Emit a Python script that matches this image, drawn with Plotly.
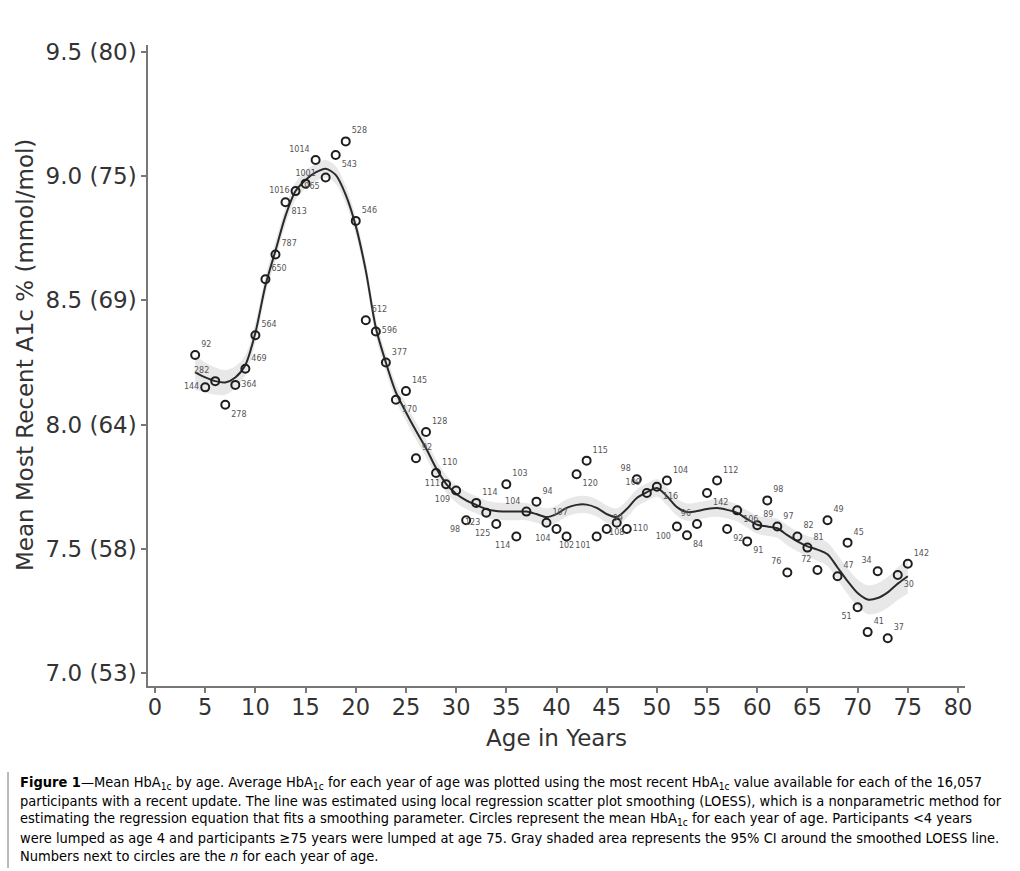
import plotly.graph_objects as go

# ---------------- data ----------------
ages = list(range(4, 76))

mean_a1c = [8.28, 8.15, 8.175, 8.08, 8.16, 8.225, 8.36, 8.585, 8.685, 8.895,
            8.94, 8.97, 9.065, 8.995, 9.085, 9.14, 8.82, 8.42, 8.375, 8.25,
            8.10, 8.135, 7.865, 7.97, 7.805, 7.76, 7.735, 7.615, 7.685, 7.645,
            7.60, 7.76, 7.55, 7.65, 7.69, 7.605, 7.58, 7.55, 7.80, 7.855,
            7.55, 7.58, 7.605, 7.58, 7.78, 7.725, 7.75, 7.775, 7.59, 7.555,
            7.60, 7.725, 7.775, 7.58, 7.655, 7.53, 7.595, 7.695, 7.59, 7.405,
            7.55, 7.505, 7.415, 7.615, 7.39, 7.525, 7.265, 7.165, 7.41, 7.14,
            7.395, 7.44]

n_per_age = ["92", "144", "282", "278", "364", "469", "564", "650", "787", "813",
             "1016", "1001", "1014", "965", "543", "528", "546", "612", "596", "377",
             "170", "145", "92", "128", "110", "111", "109", "98", "114", "123",
             "125", "103", "114", "104", "94", "107", "104", "102", "120", "115",
             "101", "99", "108", "110", "98", "109", "116", "104", "100", "84",
             "96", "142", "112", "92", "106", "91", "89", "98", "97", "76",
             "82", "81", "72", "49", "47", "45", "51", "41", "34", "37",
             "30", "142"]

loess_fit = [8.21, 8.19, 8.175, 8.17, 8.19, 8.24, 8.37, 8.56, 8.70, 8.84,
             8.94, 8.985, 9.015, 9.03, 9.005, 8.925, 8.80, 8.62, 8.39, 8.25,
             8.13, 8.05, 7.975, 7.905, 7.825, 7.762, 7.722, 7.695, 7.677, 7.66,
             7.652, 7.65, 7.65, 7.65, 7.64, 7.628, 7.64, 7.665, 7.677, 7.678,
             7.665, 7.64, 7.628, 7.66, 7.705, 7.728, 7.745, 7.712, 7.668, 7.648,
             7.652, 7.66, 7.664, 7.657, 7.645, 7.62, 7.597, 7.59, 7.583, 7.555,
             7.53, 7.51, 7.497, 7.478, 7.425, 7.37, 7.322, 7.296, 7.302, 7.325,
             7.36, 7.39]

ci_half = [0.07, 0.06, 0.055, 0.05, 0.045, 0.04, 0.04, 0.038, 0.036, 0.035,
           0.035, 0.035, 0.035, 0.035, 0.035, 0.035, 0.035, 0.035, 0.035, 0.035,
           0.035, 0.035, 0.035, 0.035, 0.035, 0.035, 0.035, 0.035, 0.035, 0.035,
           0.035, 0.035, 0.035, 0.035, 0.035, 0.035, 0.035, 0.035, 0.035, 0.035,
           0.035, 0.035, 0.035, 0.035, 0.035, 0.035, 0.035, 0.035, 0.035, 0.035,
           0.035, 0.035, 0.035, 0.035, 0.035, 0.035, 0.036, 0.037, 0.038, 0.04,
           0.04, 0.042, 0.045, 0.048, 0.05, 0.052, 0.055, 0.058, 0.06, 0.062,
           0.066, 0.07]

y_tickvals = [7.0, 7.5, 8.0, 8.5, 9.0, 9.5]
y_ticktext = ["7.0 (53)", "7.5 (58)", "8.0 (64)", "8.5 (69)", "9.0 (75)", "9.5 (80)"]
x_tickvals = list(range(0, 81, 5))

# label placement (style only)
label_pos = ["top right", "middle left", "top left", "bottom right", "middle right",
             "top right", "top right", "top right", "top right", "bottom right",
             "middle left", "top center", "top left", "bottom left", "bottom right",
             "top right", "top right", "top right", "middle right", "top right",
             "bottom right", "top right", "top right", "top right", "top right",
             "middle left", "bottom left", "bottom left", "top right", "bottom left",
             "bottom left", "top right", "bottom left", "top left", "top right",
             "top right", "bottom left", "bottom center", "bottom right", "top right",
             "bottom left", "top right", "bottom center", "middle right", "top left",
             "top left", "bottom right", "top right", "bottom left", "bottom right",
             "top left", "bottom right", "top right", "bottom right", "bottom right",
             "bottom right", "top right", "top right", "top right", "top left",
             "top right", "top right", "top left", "top right", "top right",
             "top right", "bottom left", "top right", "top left", "top right",
             "bottom right", "top right"]

# ---------------- figure ----------------
W, H = 1020, 871
L, R, T, B = 148, 55, 45, 185
pw, ph = W - L - R, H - T - B


def px(xpix):
    return (xpix - L) / pw


def py(ypix):
    return (H - B - ypix) / ph


fig = go.Figure()

upper = [f + c for f, c in zip(loess_fit, ci_half)]
lower = [f - c for f, c in zip(loess_fit, ci_half)]

fig.add_trace(go.Scatter(x=ages, y=upper, mode="lines", line=dict(width=0, shape="spline"),
                         hoverinfo="skip", showlegend=False))
fig.add_trace(go.Scatter(x=ages, y=lower, mode="lines", line=dict(width=0, shape="spline"),
                         fill="tonexty", fillcolor="rgba(195,195,195,0.38)",
                         hoverinfo="skip", showlegend=False))
fig.add_trace(go.Scatter(x=ages, y=loess_fit, mode="lines",
                         line=dict(color="#2a2a2a", width=2, shape="spline", smoothing=0.8),
                         showlegend=False))
fig.add_trace(go.Scatter(x=ages, y=mean_a1c, mode="markers+text",
                         marker=dict(symbol="circle-open", size=8, color="#1e1e1e",
                                     line=dict(width=2, color="#1e1e1e")),
                         text=n_per_age, textposition=label_pos,
                         textfont=dict(family="DejaVu Sans", size=8, color="#555555"),
                         showlegend=False))

axis_common = dict(showgrid=False, zeroline=False, showline=True, linecolor="#777777",
                   linewidth=1.5, ticks="outside", ticklen=5, tickcolor="#777777",
                   tickwidth=1.5)

fig.update_xaxes(range=[-0.7, 80.7], tickvals=x_tickvals,
                 tickfont=dict(family="DejaVu Sans", size=22.5, color="#333333"),
                 ticklabelstandoff=-5,
                 title=dict(text="Age in Years", font=dict(family="DejaVu Sans", size=23, color="#333333"),
                            standoff=11),
                 **axis_common)
fig.update_yaxes(range=[6.948, 9.528], tickvals=y_tickvals, ticktext=y_ticktext,
                 tickfont=dict(family="DejaVu Sans", size=23, color="#333333"),
                 **axis_common)

title_font = dict(family="DejaVu Sans", size=23, color="#333333")
cap_font = dict(family="Liberation Sans Narrow, DejaVu Sans Condensed, Arial Narrow, sans-serif",
                size=14.5, color="#000000")
caption_lines = [
    "<b>Figure 1</b>—Mean HbA<sub>1c</sub> by age. Average HbA<sub>1c</sub> for each year of age was plotted using the most recent HbA<sub>1c</sub> value available for each of the 16,057",
    "participants with a recent update. The line was estimated using local regression scatter plot smoothing (LOESS), which is a nonparametric method for",
    "estimating the regression equation that fits a smoothing parameter. Circles represent the mean HbA<sub>1c</sub> for each year of age. Participants &lt;4 years",
    "were lumped as age 4 and participants ≥75 years were lumped at age 75. Gray shaded area represents the 95% CI around the smoothed LOESS line.",
    "Numbers next to circles are the <i>n</i> for each year of age.",
]
cap_y = [783, 801, 819, 838, 856]
annotations = [dict(text="Mean Most Recent A1c % (mmol/mol)", xref="paper", yref="paper",
                    x=px(25), y=py(355), xanchor="center", yanchor="middle", textangle=-90,
                    showarrow=False, font=title_font)]
for line, yy in zip(caption_lines, cap_y):
    annotations.append(dict(text=line, xref="paper", yref="paper", x=px(18), y=py(yy),
                            xanchor="left", yanchor="middle", showarrow=False, font=cap_font))

shapes = [dict(type="line", xref="paper", yref="paper", x0=px(8), x1=px(8), y0=py(772), y1=py(868),
               line=dict(color="#777777", width=1))]

fig.update_layout(width=W, height=H, margin=dict(l=L, r=R, t=T, b=B),
                  paper_bgcolor="white", plot_bgcolor="white",
                  annotations=annotations, shapes=shapes)

fig.write_html("out.html")
